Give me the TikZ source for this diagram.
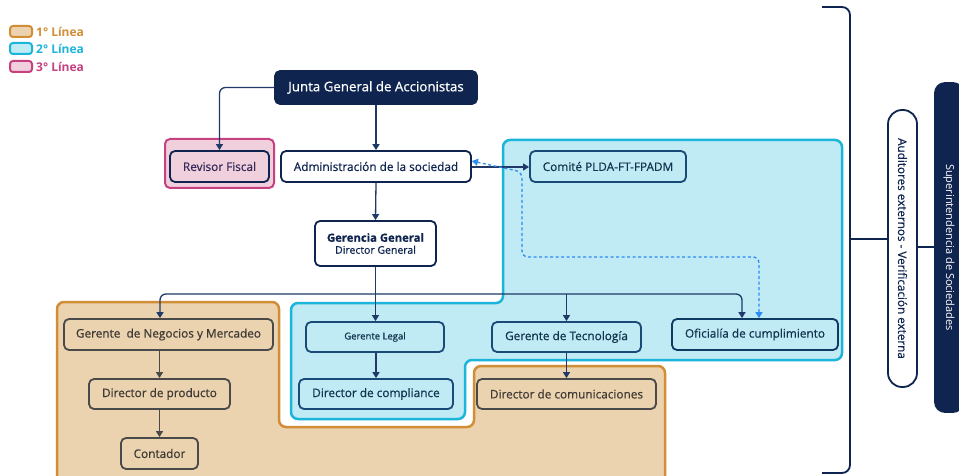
\documentclass[tikz,border=0pt]{standalone}
\usepackage{fontspec}
\setmainfont{Open Sans}
\newfontfamily\semib{Open Sans}[FakeBold=0.6]
\usetikzlibrary{arrows.meta}
\definecolor{navy}{HTML}{0F2550}
\definecolor{conncol}{HTML}{1F3A68}
\definecolor{orfill}{HTML}{EBD3AF}
\definecolor{ordraw}{HTML}{D28E36}
\definecolor{cyfill}{HTML}{C0EAF4}
\definecolor{cydraw}{HTML}{1CB5DA}
\definecolor{pkfill}{HTML}{F1D0DD}
\definecolor{pkdraw}{HTML}{C7407F}
\definecolor{grayline}{HTML}{4A4A4A}
\definecolor{ortext}{HTML}{3F3A35}
\definecolor{cytext}{HTML}{12344F}
\definecolor{cyborder}{HTML}{1A4A78}
\definecolor{dashblue}{HTML}{2A8CF0}
\tikzset{
  box/.style={rectangle, rounded corners=5pt, line width=1.8pt, inner sep=0pt, align=center, font=\semib\fontsize{11.8}{13}\selectfont},
  whitebox/.style={box, draw=navy, fill=white, text=navy},
  cybox/.style={box, draw=cyborder, fill=cyfill, text=cytext},
  orbox/.style={box, draw=grayline, fill=orfill, text=ortext},
  conn/.style={draw=conncol, line width=1.3pt, -{Triangle[width=7pt,length=6pt]}},
  gconn/.style={draw=grayline, line width=1.3pt, -{Triangle[width=7pt,length=6pt]}},
  dconn/.style={draw=dashblue, line width=1.3pt, dash pattern=on 3pt off 2.5pt, {Triangle[width=7pt,length=6pt]}-{Triangle[width=7pt,length=6pt]}},
  region/.style={line width=2.5pt, rounded corners=7pt},
  legbox/.style={line width=2pt, rounded corners=3pt},
}
\begin{document}
\begin{tikzpicture}[x=1pt,y=-1pt]
\useasboundingbox (0,0) rectangle (959,476);
\clip (0,0) rectangle (959,476);
\fill[white] (0,0) rectangle (959,476);

% legend
\draw[legbox, draw=ordraw, fill=orfill] (10,26) rectangle (32,37);
\draw[legbox, draw=cydraw, fill=cyfill] (10,43) rectangle (32,54);
\draw[legbox, draw=pkdraw, fill=pkfill] (10,61) rectangle (32,72);
\node[anchor=west, text=ordraw, font=\bfseries\fontsize{12}{13}\selectfont, inner sep=0pt] (leg1) at (36,32) {1° Línea};
\node[anchor=west, text=cydraw, font=\bfseries\fontsize{12}{13}\selectfont, inner sep=0pt] (leg2) at (36,49) {2° Línea};
\node[anchor=west, text=pkdraw, font=\bfseries\fontsize{12}{13}\selectfont, inner sep=0pt] (leg3) at (36,67) {3° Línea};

% regions
\draw[region, draw=ordraw, fill=orfill] (57,302) -- (279,302) -- (279,427) -- (474,427) -- (474,366) -- (665,366) -- (665,490) -- (57,490) -- cycle;
\draw[region, draw=cydraw, fill=cyfill] (503,140) -- (842,140) -- (842,360) -- (465,360) -- (465,419) -- (291,419) -- (291,303) -- (503,303) -- cycle;
\draw[line width=2pt, rounded corners=5pt, draw=pkdraw, fill=pkfill] (165,139) rectangle (274,188);

% nodes
\node[box, draw=navy, fill=navy, text=white, minimum width=202, minimum height=33, font=\semib\fontsize{13.3}{15}\selectfont] (junta) at (376,87.5) {Junta General de Accionistas};
\node[box, draw=navy, fill=pkfill, text=navy!80!pkdraw, minimum width=99, minimum height=31] (revisor) at (219.5,166.5) {Revisor Fiscal};
\node[whitebox, minimum width=190, minimum height=31] (admin) at (376,166.5) {Administración de la sociedad};
\node[whitebox, minimum width=121, minimum height=45] (gerencia) at (375.5,243.5) {{\bfseries\fontsize{11.3}{13}\selectfont Gerencia General}\\[-1pt]{\fontsize{10.5}{12}\selectfont Director General}};
\node[cybox, minimum width=156, minimum height=31] (comite) at (608,166.5) {Comité PLDA-FT-FPADM};
\node[orbox, minimum width=209, minimum height=31] (negocios) at (168.5,334.5) {Gerente\ \ de Negocios y Mercadeo};
\node[orbox, minimum width=141, minimum height=30] (dprod) at (159.5,394) {Director de producto};
\node[orbox, minimum width=77, minimum height=31] (contador) at (159.5,453.5) {Contador};
\node[cybox, minimum width=138, minimum height=30, font=\semib\fontsize{9.5}{11}\selectfont] (glegal) at (375,337) {Gerente Legal};
\node[cybox, minimum width=154, minimum height=30] (dcomp) at (376,394) {Director de compliance};
\node[cybox, minimum width=149, minimum height=30] (gtec) at (566.5,337) {Gerente de Tecnología};
\node[orbox, minimum width=179, minimum height=30] (dcom) at (566.5,394) {Director de comunicaciones};
\node[cybox, draw=navy!90!cyan, minimum width=166, minimum height=31] (ofic) at (755,334.5) {Oficialía de cumplimiento};

% right side
\node[box, draw=navy, fill=white, text=navy, rounded corners=14pt, rotate=-90, minimum width=277, minimum height=29, font=\semib\fontsize{11.7}{13}\selectfont] (auditores) at (902.5,248.5) {Auditores externos - Verificación externa};
\node[box, draw=navy, fill=navy, text=white, rounded corners=10pt, rotate=-90, minimum width=329, minimum height=28, font=\fontsize{11}{12}\selectfont] (superint) at (949,247.5) {Superintendencia de Sociedades};
\draw[draw=navy, line width=1.8pt, rounded corners=8pt] (822,7) -- (850,7) -- (850,473) -- (822,473);
\coordinate (bracemid) at (850,239);
\draw[draw=navy, line width=1.8pt] (bracemid) -- (bracemid -| auditores.south);
\draw[draw=navy, line width=1.8pt] (auditores.north |- 0,247) -- (superint.south |- 0,247);

% connectors
\draw[conn, rounded corners=6pt] (junta.west) -| (revisor.north);
\draw[conn] (junta.south) -- (admin.north);
\draw[conn] (admin.south) -- (gerencia.north);
\draw[conn] ([yshift=-0.5]admin.east) -- ([yshift=-0.5]comite.west);
\draw[dconn, rounded corners=6pt] ([yshift=5.5]admin.east) -- (522,172) -- (522,257) -- (759,257) -- ([xshift=4]ofic.north);
\coordinate (bus) at (376,294);
\draw[conn] (gerencia.south) -- (glegal.north -| gerencia.south);
\draw[conn, rounded corners=6pt] (bus) -| ([xshift=-8.5]negocios.north);
\draw[conn, rounded corners=6pt] (bus) -| ([xshift=-13]ofic.north);
\draw[conn] (gtec.north |- bus) -- (gtec.north);
\draw[gconn] (dprod.north |- negocios.south) -- (dprod.north);
\draw[gconn] (dprod.south) -- (contador.north);
\draw[conn] (dcomp.north |- glegal.south) -- (dcomp.north);
\draw[conn] (gtec.south) -- (dcom.north);
\end{tikzpicture}
\end{document}
